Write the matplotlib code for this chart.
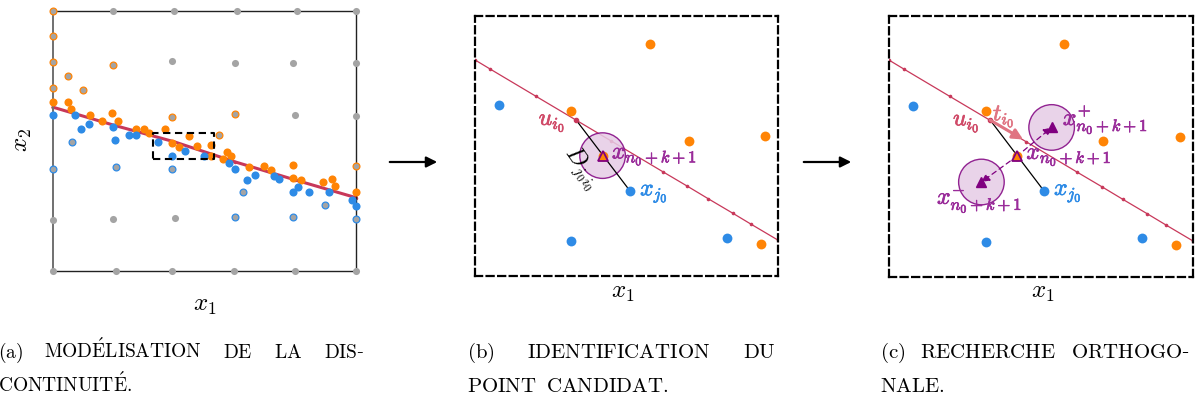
import matplotlib
matplotlib.use("Agg")
import matplotlib.pyplot as plt
import matplotlib.patheffects as pe
from matplotlib.patches import Ellipse, FancyArrowPatch

plt.rcParams['mathtext.fontset'] = 'cm'
plt.rcParams['font.family'] = 'serif'

W, H = 1195, 401

ORANGE = '#ff8405'
BLUE = '#2e8be6'
GREY = '#a4a4a4'
RED = '#c8385a'
LRED = '#e07482'
PURPLE = '#800080'
LPURPLE = '#e6cce6'
PTEXT = '#9a2c9a'

# ---- panel (a): samples in the unit square ----
orange_x = [0.0, 0.050, 0.061, 0.123, 0.162, 0.195, 0.213, 0.275, 0.300, 0.316,
            0.371, 0.394, 0.416, 0.448, 0.474, 0.522, 0.522, 0.562, 0.575, 0.589,
            0.648, 0.697, 0.718, 0.793, 0.793, 0.818, 0.890, 0.922, 0.931, 1.0]
orange_y = [0.650, 0.650, 0.625, 0.599, 0.577, 0.606, 0.577, 0.545, 0.548, 0.529,
            0.545, 0.493, 0.478, 0.520, 0.481, 0.484, 0.443, 0.429, 0.458, 0.442,
            0.401, 0.403, 0.388, 0.407, 0.356, 0.350, 0.343, 0.353, 0.328, 0.302]
blue_x = [0.0, 0.072, 0.094, 0.118, 0.198, 0.203, 0.250, 0.275, 0.348, 0.394,
          0.435, 0.499, 0.580, 0.601, 0.639, 0.666, 0.729, 0.747, 0.793, 0.807,
          0.846, 0.911, 0.986, 1.0]
blue_y = [0.599, 0.599, 0.548, 0.567, 0.554, 0.503, 0.525, 0.525, 0.496, 0.443,
          0.462, 0.443, 0.414, 0.394, 0.350, 0.371, 0.366, 0.353, 0.305, 0.324,
          0.305, 0.305, 0.273, 0.250]
# design-of-experiment points not yet classified
grey_x = [0.198, 0.399, 0.606, 0.804, 1.0, 0.394, 0.600, 0.793, 1.0, 0.798, 1.0,
          0.0, 0.198, 0.404, 0.0, 0.207, 0.394, 0.598, 0.798, 1.0]
grey_y = [1.0, 1.0, 1.0, 1.0, 1.0, 0.807, 0.800, 0.800, 0.800, 0.599, 0.597,
          0.196, 0.200, 0.205, 0.0, 0.0, 0.0, 0.0, 0.0, 0.0]
# grey points classified as orange / blue
gorange_x = [0.0, 0.0, 0.0, 0.0, 0.198, 0.050, 0.099, 0.394, 0.600, 0.548, 1.0]
gorange_y = [1.0, 0.903, 0.802, 0.702, 0.794, 0.750, 0.698, 0.593, 0.602, 0.522, 0.405]
gblue_x = [0.0, 0.063, 0.207, 0.394, 0.628, 0.898, 0.602, 0.793, 1.0]
gblue_y = [0.392, 0.497, 0.401, 0.394, 0.303, 0.255, 0.209, 0.206, 0.201]
# discontinuity model
disc_x = [0.0, 0.2, 0.4, 0.6, 0.8, 1.0]
disc_y = [0.630, 0.561, 0.497, 0.420, 0.350, 0.282]
zoom_box = (0.330, 0.429, 0.531, 0.531)  # x0, y0, x1, y1

# ---- panels (b) and (c): zoom on the dashed box ----
zo_x = [0.577, 0.318, 0.705, 0.958, 0.945, 0.421]
zo_y = [0.894, 0.636, 0.521, 0.537, 0.123, 0.463]
zb_x = [0.078, 0.511, 0.318, 0.833]
zb_y = [0.656, 0.328, 0.136, 0.148]
cut_x = [0.0, 0.05, 0.20, 0.333, 0.45, 0.62, 0.70, 0.77, 0.85, 0.91, 1.0]
cut_y = [0.831, 0.796, 0.692, 0.600, 0.519, 0.401, 0.346, 0.297, 0.242, 0.200, 0.138]
u_i0 = (0.333, 0.601)
x_new = (0.421, 0.463)
x_j0 = (0.511, 0.328)
t_tip = (0.441, 0.527)
x_plus = (0.535, 0.573)
x_minus = (0.304, 0.364)
radius_px = 22.8

LAB = 17     # size of the labels inside the panels
AXLAB = 18   # x1 / x2


def axes_px(left, top, right, bottom):
    return fig.add_axes([left / W, 1 - bottom / H, (right - left) / W, (bottom - top) / H])


def bold(color, lw=0.5):
    return [pe.withStroke(linewidth=lw, foreground=color)]


fig = plt.figure(figsize=(W / 100, H / 100), dpi=100)

# ================= (a) =================
ax = axes_px(53, 11, 356, 271)
ax.set_xlim(0, 1)
ax.set_ylim(0, 1)
ax.set_xticks([])
ax.set_yticks([])
for s in ax.spines.values():
    s.set_linewidth(1.0)
    s.set_color('#222222')
ax.spines['left'].set_color('#707070')
ax.spines['left'].set_linewidth(1.4)

ax.plot(disc_x, disc_y, color=RED, lw=2.2, marker='o', ms=1.5, zorder=2, clip_on=False)
ax.scatter(grey_x, grey_y, s=26, color=GREY, lw=0, zorder=3, clip_on=False)
ax.scatter(gorange_x, gorange_y, s=24, color=GREY, edgecolor=ORANGE, lw=0.9, zorder=3, clip_on=False)
ax.scatter(gblue_x, gblue_y, s=24, color=GREY, edgecolor=BLUE, lw=0.9, zorder=3, clip_on=False)
ax.scatter(orange_x, orange_y, s=34, color=ORANGE, lw=0, zorder=4, clip_on=False)
ax.scatter(blue_x, blue_y, s=34, color=BLUE, lw=0, zorder=4, clip_on=False)
bx0, by0, bx1, by1 = zoom_box
ax.plot([bx0, bx1, bx1, bx0, bx0], [by0, by0, by1, by1, by0], color='black',
        lw=1.5, ls=(0, (3.5, 2.2)), zorder=5)
ax.text(0.5, -0.131, r'$x_1$', transform=ax.transAxes, fontsize=AXLAB, ha='center', va='center')
ax.text(-0.102, 0.504, r'$x_2$', transform=ax.transAxes, fontsize=AXLAB, ha='center',
        va='center', rotation=90)


def zoom_panel(left, top, right, bottom):
    a = axes_px(left, top, right, bottom)
    a.set_xlim(0, 1)
    a.set_ylim(0, 1)
    a.set_xticks([])
    a.set_yticks([])
    for s in a.spines.values():
        s.set_linewidth(1.6)
        s.set_linestyle((0, (3.2, 2.0)))
        s.set_color('black')
    a.plot(cut_x, cut_y, color=RED, lw=0.9, marker='o', ms=1.6, zorder=2)
    a.scatter(zo_x, zo_y, s=50, color=ORANGE, lw=0, zorder=5)
    a.scatter(zb_x, zb_y, s=50, color=BLUE, lw=0, zorder=5)
    a.plot([u_i0[0], x_j0[0]], [u_i0[1], x_j0[1]], color='black', lw=0.9, zorder=4)
    a.plot(*u_i0, marker='o', ms=3, color=RED, zorder=6)
    a.text(u_i0[0] - 0.035, u_i0[1] - 0.01, r'$u_{i_0}$', fontsize=LAB, color='#d04a68',
           ha='right', va='center', path_effects=bold('#d04a68'))
    w = (right - left)
    h = (bottom - top)
    return a, 2 * radius_px / w, 2 * radius_px / h


def circle(a, c, rw, rh):
    a.add_patch(Ellipse(c, rw, rh, facecolor=LPURPLE, edgecolor=PURPLE, lw=1.0,
                        alpha=0.85, zorder=3))


# ================= (b) =================
axb, rw, rh = zoom_panel(475, 16, 778, 276)
circle(axb, x_new, rw, rh)
axb.plot(*x_new, marker='^', ms=7, mfc=ORANGE, mec=PURPLE, mew=1.3, zorder=7)
axb.text(0.452, 0.452, r'$x_{n_0+k+1}$', fontsize=LAB, color=PTEXT, ha='left',
         va='baseline', path_effects=bold(PTEXT), zorder=8)
axb.text(0.545, 0.31, r'$x_{j_0}$', fontsize=LAB, color=BLUE, ha='left',
         va='baseline', path_effects=bold(BLUE), zorder=8)
axb.text(0.350, 0.415, r'$D_{j_0 i_0}$', fontsize=LAB, color='black', ha='center',
         va='center', rotation=-55, zorder=8)
axb.text(0.488, -0.065, r'$x_1$', transform=axb.transAxes, fontsize=AXLAB,
         ha='center', va='center')

# ================= (c) =================
axc, rw, rh = zoom_panel(889, 16, 1193, 277)
circle(axc, x_plus, rw, rh)
circle(axc, x_minus, rw, rh)
axc.plot(*x_new, marker='^', ms=7, mfc=ORANGE, mec=PURPLE, mew=1.3, zorder=7)
axc.plot(*x_plus, marker='^', ms=7, color=PURPLE, zorder=7)
axc.plot(*x_minus, marker='^', ms=7, color=PURPLE, zorder=7)
for tgt in (x_plus, x_minus):
    axc.annotate('', xy=tgt, xytext=x_new, zorder=6,
                 arrowprops=dict(arrowstyle='-|>', color=PURPLE, lw=0.9,
                                 ls=(0, (4, 3)), mutation_scale=12,
                                 shrinkA=6, shrinkB=0))
axc.annotate('', xy=t_tip, xytext=u_i0, zorder=6,
             arrowprops=dict(arrowstyle='-|>', color=LRED, lw=2.2,
                             mutation_scale=15, shrinkA=0, shrinkB=0))
axc.text(0.342, 0.617, r'$t_{i_0}$', fontsize=LAB, color=LRED, ha='left',
         va='center', path_effects=bold(LRED), zorder=8)
axc.text(0.572, 0.582, r'$x^{+}_{n_0+k+1}$', fontsize=LAB, color=PTEXT, ha='left',
         va='baseline', path_effects=bold(PTEXT), zorder=8)
axc.text(0.452, 0.452, r'$x_{n_0+k+1}$', fontsize=LAB, color=PTEXT, ha='left',
         va='baseline', path_effects=bold(PTEXT), zorder=8)
axc.text(0.158, 0.28, r'$x^{-}_{n_0+k+1}$', fontsize=LAB, color=PTEXT, ha='left',
         va='baseline', path_effects=bold(PTEXT), zorder=8)
axc.text(0.543, 0.314, r'$x_{j_0}$', fontsize=LAB, color=BLUE, ha='left',
         va='baseline', path_effects=bold(BLUE), zorder=8)
axc.text(0.507, -0.061, r'$x_1$', transform=axc.transAxes, fontsize=AXLAB,
         ha='center', va='center')

# arrows between panels
for x0, x1 in ((387, 440), (801, 854)):
    fig.add_artist(FancyArrowPatch(
        (x0 / W, 1 - 162 / H), (x1 / W, 1 - 162 / H), transform=fig.transFigure,
        arrowstyle='-|>', mutation_scale=16, lw=1.6, color='black'))

# captions, justified by hand
renderer = fig.canvas.get_renderer()


def caption_line(words, x0, x1, y, size=14):
    txts = [fig.text(0, 1 - y / H, wd, fontsize=size, va='baseline', ha='left')
            for wd in words]
    widths = [t.get_window_extent(renderer).width for t in txts]
    if x1 is None or len(words) == 1:
        gap = 9
    else:
        gap = (x1 - x0 - sum(widths)) / (len(words) - 1)
    x = x0
    for t, wd in zip(txts, widths):
        t.set_x(x / W)
        x += wd + gap


caption_line([r'$\mathrm{(a)}$', r'$\mathrm{MOD\acute{E}LISATION}$', r'$\mathrm{DE}$',
              r'$\mathrm{LA}$', r'$\mathrm{DIS}$-'], -2, 364, 358)
caption_line([r'$\mathrm{CONTINUIT\acute{E}.}$'], -2, None, 392)
caption_line([r'$\mathrm{(b)}$', r'$\mathrm{IDENTIFICATION}$', r'$\mathrm{DU}$'], 467, 776, 358, 15)
caption_line([r'$\mathrm{POINT}$', r'$\mathrm{CANDIDAT.}$'], 467, None, 392, 15)
caption_line([r'$\mathrm{(c)}$', r'$\mathrm{RECHERCHE}$', r'$\mathrm{ORTHOGO}$-'], 880, 1190, 358, 15)
caption_line([r'$\mathrm{NALE.}$'], 880, None, 392, 15)

fig.savefig('out.png', dpi=100)
